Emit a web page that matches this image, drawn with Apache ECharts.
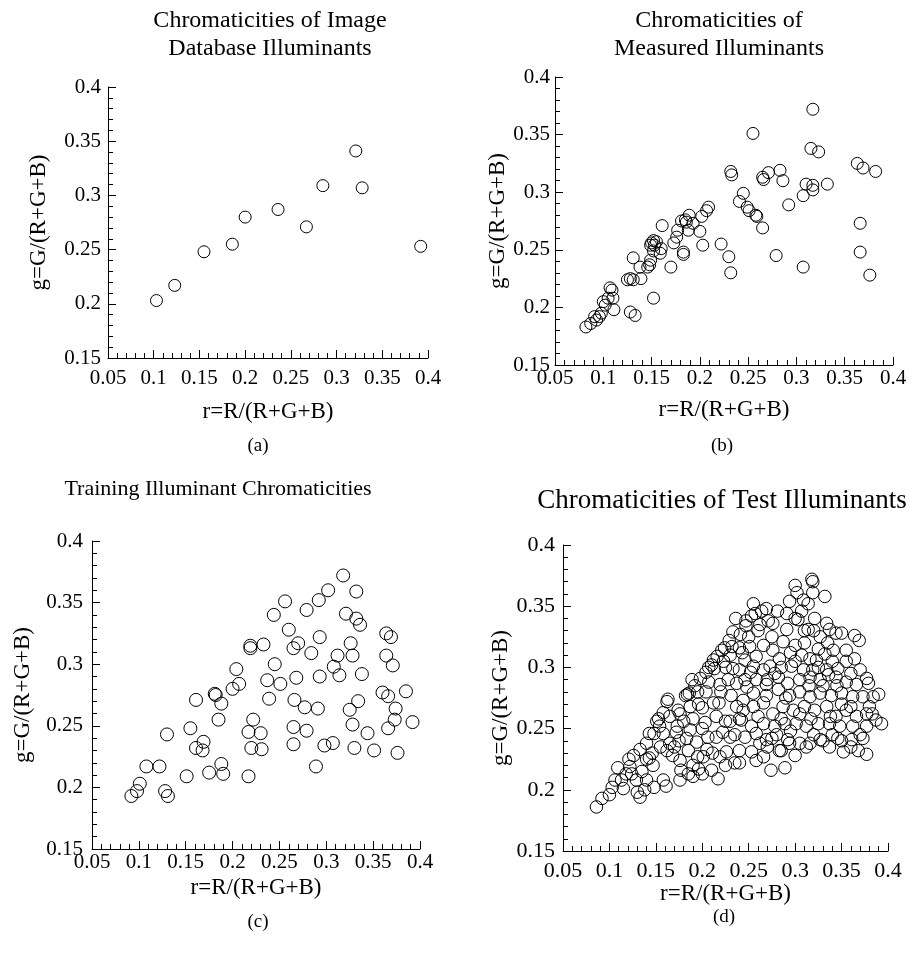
<!DOCTYPE html>
<html><head><meta charset="utf-8">
<script src="https://cdn.jsdelivr.net/npm/echarts@6/dist/echarts.min.js"></script>
<style>html,body{margin:0;padding:0;background:#fff}#c{width:917px;height:954px}</style>
</head><body><div id="c"></div>
<script>
// ---- data ----
const xRange = [0.05, 0.4];
const yRange = [0.15, 0.4];
const tickStep = 0.05;
const xName = 'r=R/(R+G+B)';
const yName = 'g=G/(R+G+B)';
const panelTitles = [
  'Chromaticities of Image\nDatabase Illuminants',
  'Chromaticities of\nMeasured Illuminants',
  'Training Illuminant Chromaticities',
  'Chromaticities of Test Illuminants'
];
const captions = ['(a)', '(b)', '(c)', '(d)'];

const imageDbPoints = [
  [0.103,0.203],[0.123,0.217],[0.155,0.248],[0.186,0.255],[0.200,0.280],[0.236,0.287],
  [0.267,0.271],[0.285,0.309],[0.321,0.341],[0.328,0.307],[0.392,0.253]
];

const measuredPoints = [
  [0.317,0.372],[0.255,0.351],[0.315,0.338],[0.323,0.335],[0.363,0.325],[0.369,0.321],[0.382,0.318],
  [0.232,0.318],[0.233,0.315],[0.271,0.317],[0.283,0.319],[0.265,0.313],[0.266,0.311],[0.286,0.310],
  [0.310,0.307],[0.317,0.306],[0.332,0.307],[0.307,0.297],[0.317,0.302],[0.245,0.299],[0.241,0.292],
  [0.249,0.287],[0.251,0.284],[0.258,0.280],[0.259,0.279],[0.265,0.269],[0.292,0.289],[0.366,0.273],
  [0.366,0.248],[0.376,0.228],[0.307,0.235],[0.279,0.245],[0.222,0.255],[0.230,0.244],[0.232,0.230],
  [0.209,0.287],[0.207,0.284],[0.202,0.279],[0.200,0.266],[0.203,0.254],
  [0.189,0.280],[0.185,0.276],[0.181,0.275],[0.186,0.274],[0.193,0.273],[0.188,0.267],[0.177,0.267],
  [0.176,0.261],[0.173,0.256],[0.183,0.248],[0.183,0.246],[0.170,0.235],[0.161,0.271],[0.152,0.258],
  [0.150,0.256],[0.153,0.254],[0.149,0.254],[0.155,0.257],[0.160,0.251],[0.159,0.247],[0.152,0.249],
  [0.149,0.241],[0.148,0.237],[0.146,0.235],[0.138,0.235],[0.131,0.243],[0.139,0.225],[0.131,0.224],
  [0.125,0.224],[0.128,0.225],[0.152,0.208],[0.128,0.196],[0.133,0.193],[0.107,0.217],[0.109,0.215],
  [0.110,0.208],[0.105,0.208],[0.100,0.205],[0.102,0.202],[0.111,0.198],[0.098,0.195],[0.096,0.192],
  [0.091,0.192],[0.093,0.189],[0.087,0.186],[0.082,0.183]
];

const trainingPoints = [
  [0.318,0.372],[0.302,0.360],[0.332,0.359],[0.256,0.351],[0.292,0.352],[0.279,0.344],[0.244,0.340],
  [0.321,0.341],[0.332,0.337],[0.336,0.332],[0.260,0.328],[0.293,0.322],[0.364,0.325],[0.369,0.322],
  [0.219,0.315],[0.219,0.313],[0.233,0.316],[0.270,0.317],[0.265,0.313],[0.284,0.309],[0.312,0.307],
  [0.326,0.317],[0.328,0.307],[0.364,0.307],[0.371,0.299],[0.245,0.300],[0.204,0.296],[0.308,0.298],
  [0.314,0.291],[0.338,0.292],[0.293,0.290],[0.268,0.289],[0.237,0.287],[0.251,0.284],[0.207,0.284],
  [0.200,0.280],[0.360,0.277],[0.366,0.274],[0.385,0.278],[0.181,0.276],[0.182,0.275],[0.188,0.268],
  [0.161,0.271],[0.239,0.272],[0.266,0.271],[0.277,0.265],[0.291,0.264],[0.334,0.270],[0.325,0.263],
  [0.374,0.264],[0.373,0.255],[0.392,0.253],[0.366,0.248],[0.328,0.251],[0.344,0.244],[0.279,0.246],
  [0.265,0.249],[0.222,0.255],[0.217,0.245],[0.230,0.244],[0.185,0.255],[0.155,0.248],[0.130,0.243],
  [0.169,0.237],[0.161,0.232],[0.168,0.230],[0.220,0.232],[0.231,0.231],[0.265,0.235],[0.298,0.234],
  [0.307,0.236],[0.330,0.232],[0.351,0.230],[0.376,0.228],[0.289,0.217],[0.188,0.219],[0.190,0.211],
  [0.175,0.212],[0.151,0.209],[0.217,0.209],[0.108,0.217],[0.122,0.217],[0.128,0.197],[0.131,0.193],
  [0.101,0.203],[0.098,0.197],[0.092,0.193]
];

const testPoints = [
  [0.086,0.186],[0.092,0.193],[0.100,0.196],[0.103,0.202],[0.109,0.218],[0.113,0.208],[0.115,0.201],
  [0.122,0.219],[0.124,0.213],[0.126,0.228],[0.129,0.208],[0.130,0.198],[0.133,0.194],[0.138,0.200],
  [0.140,0.208],[0.140,0.238],[0.143,0.226],[0.143,0.246],[0.146,0.230],[0.148,0.202],[0.147,0.220],
  [0.151,0.256],[0.153,0.258],[0.154,0.252],[0.158,0.246],[0.158,0.208],[0.161,0.203],[0.162,0.272],
  [0.162,0.232],[0.165,0.238],[0.168,0.228],[0.170,0.235],[0.173,0.252],[0.174,0.265],[0.176,0.224],
  [0.176,0.208],[0.177,0.216],[0.180,0.256],[0.182,0.277],[0.183,0.242],[0.184,0.278],[0.185,0.232],
  [0.187,0.249],[0.187,0.268],[0.189,0.290],[0.190,0.211],[0.190,0.220],[0.194,0.239],[0.195,0.227],
  [0.196,0.217],[0.200,0.213],[0.200,0.267],[0.201,0.227],[0.203,0.255],[0.204,0.280],[0.204,0.296],
  [0.206,0.243],[0.207,0.288],[0.210,0.302],[0.211,0.230],[0.212,0.271],[0.212,0.306],[0.213,0.299],
  [0.215,0.243],[0.217,0.209],[0.218,0.271],[0.219,0.286],[0.219,0.227],[0.221,0.314],[0.222,0.247],
  [0.224,0.316],[0.225,0.256],[0.226,0.231],[0.228,0.290],[0.230,0.243],[0.230,0.256],[0.231,0.277],
  [0.232,0.317],[0.233,0.299],[0.235,0.222],[0.237,0.268],[0.237,0.287],[0.233,0.329],[0.236,0.340],
  [0.318,0.372],[0.319,0.370],[0.300,0.367],[0.302,0.361],[0.319,0.361],[0.332,0.358],[0.294,0.354],
  [0.309,0.355],[0.314,0.352],[0.255,0.352],[0.269,0.348],[0.281,0.346],[0.257,0.344],[0.291,0.344],
  [0.307,0.346],[0.303,0.339],[0.271,0.338],[0.247,0.334],[0.262,0.335],[0.276,0.336],[0.291,0.331],
  [0.314,0.331],[0.321,0.340],[0.334,0.336],[0.337,0.331],[0.344,0.328],[0.364,0.326],[0.369,0.322],
  [0.350,0.328],[0.327,0.325],
  [0.240,0.316],[0.251,0.317],[0.266,0.318],[0.276,0.314],[0.287,0.321],[0.300,0.318],[0.307,0.310],
  [0.316,0.307],[0.323,0.306],[0.332,0.311],[0.341,0.314],[0.355,0.314],[0.364,0.307],[0.370,0.298],
  [0.377,0.291],[0.346,0.299],[0.334,0.298],[0.319,0.298],[0.309,0.298],[0.296,0.301],[0.283,0.307],
  [0.273,0.301],[0.258,0.309],[0.246,0.306],[0.240,0.298],[0.255,0.301],[0.266,0.298],[0.278,0.295],
  [0.246,0.290],[0.258,0.290],[0.269,0.286],[0.282,0.292],[0.292,0.287],[0.305,0.290],[0.316,0.292],
  [0.327,0.290],[0.336,0.294],[0.344,0.292],[0.355,0.288],[0.366,0.286],[0.379,0.287],[0.384,0.276],
  [0.373,0.276],[0.362,0.276],[0.350,0.279],[0.339,0.277],[0.327,0.279],[0.316,0.276],[0.305,0.280],
  [0.294,0.277],[0.282,0.282],[0.269,0.277],[0.255,0.279],[0.244,0.273],[0.248,0.284],
  [0.244,0.265],[0.255,0.268],[0.266,0.271],[0.276,0.262],[0.287,0.268],[0.298,0.265],[0.310,0.268],
  [0.321,0.265],[0.334,0.268],[0.344,0.260],[0.355,0.265],[0.366,0.260],[0.377,0.262],[0.387,0.257],
  [0.393,0.254],[0.377,0.252],[0.362,0.252],[0.348,0.252],[0.337,0.254],[0.325,0.254],[0.312,0.252],
  [0.301,0.254],[0.289,0.254],[0.278,0.252],[0.266,0.254],[0.253,0.252],[0.242,0.257],
  [0.246,0.243],[0.258,0.246],[0.269,0.241],[0.280,0.245],[0.292,0.241],[0.305,0.238],[0.316,0.238],
  [0.327,0.241],[0.337,0.235],[0.346,0.242],[0.361,0.241],[0.373,0.242],[0.352,0.231],[0.377,0.229],
  [0.240,0.232],[0.253,0.231],[0.266,0.227],[0.283,0.232],[0.294,0.238],[0.312,0.235],
  [0.274,0.216],[0.289,0.218],[0.258,0.224],[0.240,0.222],
  [0.295,0.312],[0.310,0.320],[0.325,0.315],[0.340,0.305],[0.355,0.305],[0.360,0.295],[0.350,0.270],
  [0.330,0.285],[0.290,0.275],[0.270,0.290],[0.260,0.260],[0.285,0.258],[0.305,0.262],[0.320,0.245],
  [0.340,0.245],[0.370,0.245],[0.380,0.268],[0.390,0.278],[0.250,0.325],[0.260,0.330],[0.275,0.325],
  [0.300,0.340],[0.310,0.330],[0.320,0.330],[0.335,0.320],[0.270,0.235],[0.285,0.232],[0.300,0.228],
  [0.330,0.240],[0.360,0.235],
  [0.165,0.260],[0.190,0.258],[0.195,0.280],[0.215,0.260],[0.225,0.300],[0.230,0.310],[0.205,0.233],
  [0.175,0.240],[0.155,0.235],[0.135,0.215],[0.140,0.225],[0.185,0.213],[0.210,0.216],[0.225,0.220],
  [0.235,0.245],[0.240,0.258],[0.220,0.280],[0.200,0.250],
  [0.163,0.274],[0.176,0.262],[0.186,0.279],[0.192,0.285],[0.198,0.291],[0.207,0.300],[0.216,0.309],
  [0.223,0.305],[0.229,0.322],[0.241,0.327],[0.247,0.338],[0.253,0.342],[0.264,0.346],[0.243,0.312],
  [0.252,0.296],[0.196,0.270],[0.172,0.247],[0.158,0.263],[0.148,0.246],[0.133,0.233],[0.121,0.225],
  [0.118,0.213],[0.106,0.208],
  [0.285,0.300],[0.300,0.305],[0.315,0.285],[0.325,0.300],[0.345,0.285],[0.360,0.268],[0.338,0.260],
  [0.317,0.258],[0.295,0.248],[0.275,0.242],[0.262,0.238],[0.350,0.240],[0.383,0.262],[0.368,0.232]
];

// ---- layout ----
const FONT = "'Liberation Serif','Times New Roman',serif";
const panels = [
  { pts: imageDbPoints,  grid: {left:108, top:87,  width:320, height:271}, sym:12,   tick:21, yGap:58, xGap:42, xMargin:10, yMargin:7 },
  { pts: measuredPoints, grid: {left:555, top:77,  width:338, height:288}, sym:12,   tick:21, yGap:44, xGap:33, xMargin:3,  yMargin:5 },
  { pts: trainingPoints, grid: {left:92,  top:541, width:328, height:308}, sym:13,   tick:21, yGap:58, xGap:27, xMargin:3,  yMargin:9 },
  { pts: testPoints,     grid: {left:563, top:545, width:325, height:306}, sym:12.5, tick:22, yGap:40, xGap:22, xMargin:9,  yMargin:8 }
];

const grids = [], xAxes = [], yAxes = [], series = [];
panels.forEach((p, i) => {
  grids.push(Object.assign({containLabel:false}, p.grid));
  const mk = () => ({
    type: 'value', gridIndex: i, interval: tickStep,
    axisLine: {show: true, onZero: false, lineStyle: {color: '#000', width: 1}},
    axisTick: {show: true, inside: true, length: 8, lineStyle: {color: '#000', width: 1}},
    minorTick: {show: true, splitNumber: 5, length: 5, lineStyle: {color: '#000', width: 1}},
    splitLine: {show: false},
    minorSplitLine: {show: false},
    nameLocation: 'middle',
    nameTextStyle: {fontFamily: FONT, fontSize: 23, color: '#000'}
  });
  xAxes.push(Object.assign(mk(), {
    min: xRange[0], max: xRange[1], name: xName, nameGap: p.xGap,
    axisLabel: {fontFamily: FONT, fontSize: p.tick, color: '#000', margin: p.xMargin}
  }));
  yAxes.push(Object.assign(mk(), {
    min: yRange[0], max: yRange[1], name: yName, nameGap: p.yGap, nameRotate: 90,
    axisLabel: {fontFamily: FONT, fontSize: p.tick, color: '#000', margin: p.yMargin}
  }));
  series.push({
    type: 'scatter', xAxisIndex: i, yAxisIndex: i, data: p.pts,
    symbol: 'circle', symbolSize: p.sym,
    itemStyle: {color: 'rgba(0,0,0,0)', borderColor: '#000', borderWidth: 1, opacity: 1},
    emphasis: {disabled: true}, silent: true
  });
});

const titlePos = [
  {x:270, y:7,   size:24},
  {x:719, y:7,   size:24},
  {x:218, y:476, size:22},
  {x:722, y:485, size:27}
];
const captionPos = [[258,437],[722,437],[258,913],[724,908]];

const graphics = [];
panelTitles.forEach((t, i) => {
  graphics.push({type:'text', x:titlePos[i].x, y:titlePos[i].y, silent:true,
    style:{text:t, font: titlePos[i].size + 'px ' + FONT, fill:'#000', align:'center', verticalAlign:'top',
           textAlign:'center', textVerticalAlign:'top', lineHeight: titlePos[i].size + 4}});
});
captions.forEach((t, i) => {
  graphics.push({type:'text', x:captionPos[i][0], y:captionPos[i][1], silent:true,
    style:{text:t, font: '19px ' + FONT, fill:'#000', align:'center', verticalAlign:'top',
           textAlign:'center', textVerticalAlign:'top'}});
});

const chart = echarts.init(document.getElementById('c'), null, {renderer:'canvas'});
chart.setOption({
  animation: false,
  backgroundColor: '#fff',
  grid: grids, xAxis: xAxes, yAxis: yAxes, series: series,
  graphic: graphics
});
</script>
</body></html>
